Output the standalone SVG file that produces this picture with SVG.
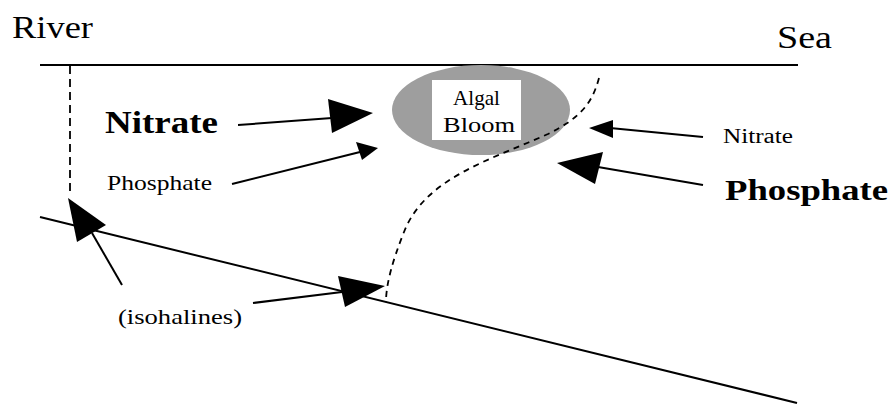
<svg xmlns="http://www.w3.org/2000/svg" width="894" height="405" viewBox="0 0 894 405">
<style>
.t{font-family:"Liberation Serif","Times New Roman",serif;fill:#000}
.b{font-weight:bold}
.ln{stroke:#000;stroke-width:2;fill:none}
.dl{stroke:#000;stroke-width:1.8;fill:none;stroke-dasharray:8 5}
.dc{stroke:#000;stroke-width:1.8;fill:none;stroke-dasharray:6 5}
.ah{fill:#000;stroke:none}
</style>
<rect width="894" height="405" fill="#fff"/>
<g id="surface">
<line class="ln" x1="40" y1="65" x2="798" y2="65"/>
</g>
<g id="river-label"><text class="t" x="12" y="38" font-size="31" textLength="81" lengthAdjust="spacingAndGlyphs">River</text></g>
<g id="sea-label"><text class="t" x="777" y="48" font-size="31" textLength="55" lengthAdjust="spacingAndGlyphs">Sea</text></g>
<g id="algal-bloom">
<ellipse cx="481" cy="110" rx="89" ry="45" fill="#9e9e9e"/>
<rect x="432" y="80" width="89" height="60" fill="#fff"/>
<text class="t" x="453" y="105" font-size="22" textLength="47" lengthAdjust="spacingAndGlyphs">Algal</text>
<text class="t" x="443" y="132" font-size="22" textLength="72" lengthAdjust="spacingAndGlyphs">Bloom</text>
</g>
<g id="isohalines-lines">
<line class="ln" x1="40" y1="217" x2="797" y2="403"/>
<line class="dl" x1="70" y1="66" x2="70" y2="196"/>
<path class="dc" d="M599,78 C592,104 580,118 548,134 C490,160 425,178 404,232 C392,262 386,285 386,302"/>
</g>
<g id="nitrate-river"><text class="t b" x="105" y="133" font-size="31" textLength="113" lengthAdjust="spacingAndGlyphs">Nitrate</text></g>
<g id="phosphate-river"><text class="t" x="107" y="190" font-size="21" textLength="105" lengthAdjust="spacingAndGlyphs">Phosphate</text></g>
<g id="nitrate-sea"><text class="t" x="723" y="143" font-size="20" textLength="70" lengthAdjust="spacingAndGlyphs">Nitrate</text></g>
<g id="phosphate-sea"><text class="t b" x="725" y="200" font-size="30" textLength="163" lengthAdjust="spacingAndGlyphs">Phosphate</text></g>
<g id="isohalines-label"><text class="t" x="118" y="324" font-size="21" textLength="124" lengthAdjust="spacingAndGlyphs">(isohalines)</text></g>
<g id="connectors">
<line class="ln" x1="238" y1="125" x2="332" y2="118"/>
<polygon class="ah" points="373,113 328,99 332,133"/>
<line class="ln" x1="232" y1="184" x2="360" y2="152"/>
<polygon class="ah" points="378,148 356,142 362,160"/>
<line class="ln" x1="703" y1="137" x2="610" y2="128"/>
<polygon class="ah" points="589,128 613,120 613,138"/>
<line class="ln" x1="703" y1="185" x2="598" y2="167"/>
<polygon class="ah" points="557,163 603,152 595,184"/>
<line class="ln" x1="122" y1="285" x2="92" y2="233"/>
<polygon class="ah" points="68,198 106,225 77,242"/>
<line class="ln" x1="253" y1="303" x2="342" y2="292"/>
<polygon class="ah" points="385,286 338,276 345,307"/>
</g>
</svg>
